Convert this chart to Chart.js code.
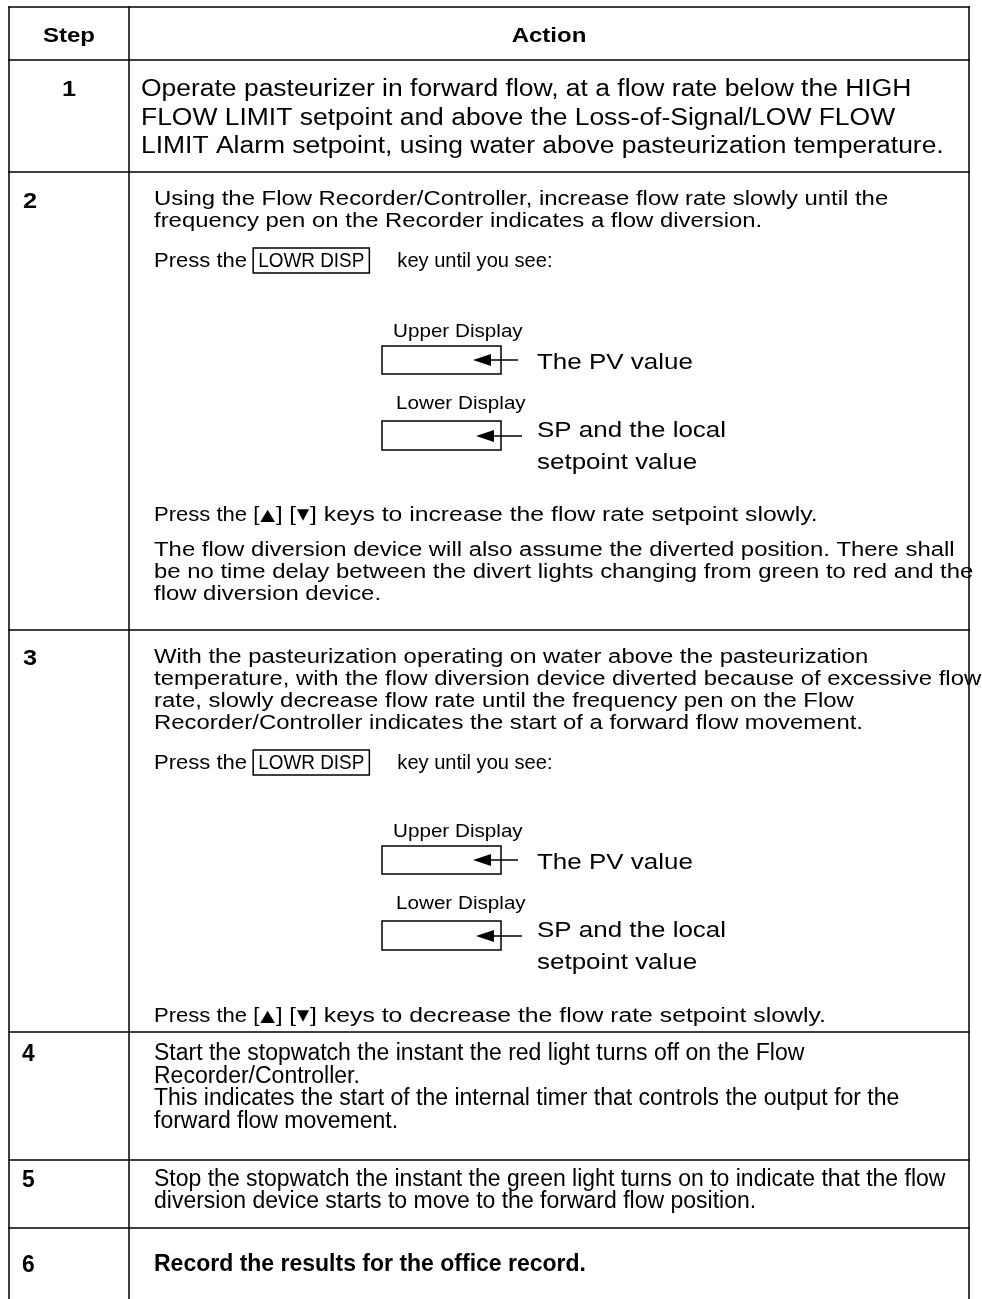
<!DOCTYPE html>
<html>
<head>
<meta charset="utf-8">
<title>Step / Action</title>
<script src="https://cdn.jsdelivr.net/npm/chart.js@4.4.1/dist/chart.umd.min.js"></script>
<style>
  html, body { margin: 0; padding: 0; background: #fff; }
  #wrap { width: 982px; height: 1299px; }
</style>
</head>
<body>
<div id="wrap"><canvas id="table-chart" width="982" height="1299"></canvas></div>
<script>
// Textos da tabela
var headerLabels = ['Step', 'Action'];
var stepLabels = ['1', '2', '3', '4', '5', '6'];
var step1Lines = [
  'Operate pasteurizer in forward flow, at a flow rate below the HIGH',
  'FLOW LIMIT setpoint and above the Loss-of-Signal/LOW FLOW',
  'LIMIT Alarm setpoint, using water above pasteurization temperature.'
];
var step2Intro = [
  'Using the Flow Recorder/Controller, increase flow rate slowly until the',
  'frequency pen on the Recorder indicates a flow diversion.'
];
var pressKeyText = ['Press the ', 'key until you see:'];
var keyLabel = 'LOWR DISP';
var displayLabels = ['Upper Display', 'Lower Display'];
var displayNotes = [['The PV value'], ['SP and the local', 'setpoint value']];
var arrowKeys = ['\u25B2', '\u25BC'];
var step2Keys = '] keys to increase the flow rate setpoint slowly.';
var step2Outro = [
  'The flow diversion device will also assume the diverted position. There shall',
  'be no time delay between the divert lights changing from green to red and the',
  'flow diversion device.'
];
var step3Intro = [
  'With the pasteurization operating on water above the pasteurization',
  'temperature, with the flow diversion device diverted because of excessive flow',
  'rate, slowly decrease flow rate until the frequency pen on the Flow',
  'Recorder/Controller indicates the start of a forward flow movement.'
];
var step3Keys = '] keys to decrease the flow rate setpoint slowly.';
var step4Lines = [
  'Start the stopwatch the instant the red light turns off on the Flow',
  'Recorder/Controller.',
  'This indicates the start of the internal timer that controls the output for the',
  'forward flow movement.'
];
var step5Lines = [
  'Stop the stopwatch the instant the green light turns on to indicate that the flow',
  'diversion device starts to move to the forward flow position.'
];
var step6Lines = ['Record the results for the office record.'];

// Grade da tabela (limites das colunas e linhas)
var colEdges = [9, 129, 969];
var rowEdges = [7, 60, 172, 630, 1032, 1160, 1228];
var tableBottom = 1299;

var FAMILY = '"Liberation Sans", Arial, Helvetica, sans-serif';
var fonts = {
  head:  { font: 'bold 20px ' + FAMILY, sx: 1.2 },
  step:  { font: 'bold 22px ' + FAMILY, sx: 1.15 },
  stepN: { font: 'bold 24px ' + FAMILY, sx: 0.95 },
  r1:    { font: '23px ' + FAMILY, sx: 1.15 },
  body:  { font: '19.5px ' + FAMILY, sx: 1.225 },
  tail:  { font: '19.5px ' + FAMILY, sx: 1.27 },
  press: { font: '19.5px ' + FAMILY, sx: 1.13 },
  key:   { font: '19.5px ' + FAMILY, sx: 0.97 },
  keyTail: { font: '19.5px ' + FAMILY, sx: 1.03 },
  small: { font: '17.5px ' + FAMILY, sx: 1.18 },
  note:  { font: '22px ' + FAMILY, sx: 1.18 },
  narrow:{ font: '23px ' + FAMILY, sx: 1.0 },
  narrowB:{ font: 'bold 23px ' + FAMILY, sx: 1.0 },
  symUp: { font: '16px "DejaVu Sans", sans-serif', sx: 1.2 },
  symDn: { font: '15px "DejaVu Sans", sans-serif', sx: 1.05 }
};

// Monta as linhas da grade como datasets do gráfico
var ruleSets = [];
rowEdges.forEach(function(y) {
  ruleSets.push([{x: colEdges[0], y: y}, {x: colEdges[2], y: y}]);
});
colEdges.forEach(function(x) {
  ruleSets.push([{x: x, y: rowEdges[0]}, {x: x, y: tableBottom}]);
});
var datasets = ruleSets.map(function(pts) {
  return {
    data: pts, showLine: true, borderColor: '#000', borderWidth: 1.5,
    pointRadius: 0, fill: false, tension: 0, borderCapStyle: 'square', clip: false
  };
});

// Plugin que escreve os textos e os desenhos dentro das células
var tableTextPlugin = {
  id: 'tableText',
  afterDatasetsDraw: function(chart) {
    var ctx = chart.ctx;
    var sx = chart.scales.x, sy = chart.scales.y;
    var X = function(v) { return sx.getPixelForValue(v); };
    var Y = function(v) { return sy.getPixelForValue(v); };

    function measure(txt, f) {
      ctx.font = f.font;
      return ctx.measureText(txt).width * f.sx;
    }
    function text(txt, x, y, f) {
      ctx.save();
      ctx.fillStyle = '#000';
      ctx.textBaseline = 'alphabetic';
      ctx.font = f.font;
      ctx.translate(X(x), Y(y));
      ctx.scale(f.sx, 1);
      ctx.fillText(txt, 0, 0);
      ctx.restore();
      return measure(txt, f);
    }
    function centered(txt, cx, y, f) {
      text(txt, cx - measure(txt, f) / 2, y, f);
    }
    function lines(arr, x, y0, gap, f) {
      arr.forEach(function(t, i) { text(t, x, y0 + i * gap, f); });
    }
    function box(x0, y0, x1, y1) {
      ctx.save();
      ctx.strokeStyle = '#000';
      ctx.lineWidth = 1.5;
      ctx.strokeRect(X(x0), Y(y0), X(x1) - X(x0), Y(y1) - Y(y0));
      ctx.restore();
    }
    function arrow(tipX, cy, endX) {
      ctx.save();
      ctx.fillStyle = '#000';
      ctx.strokeStyle = '#000';
      ctx.lineWidth = 1.5;
      ctx.beginPath();
      ctx.moveTo(X(tipX), Y(cy));
      ctx.lineTo(X(tipX + 18), Y(cy - 6));
      ctx.lineTo(X(tipX + 18), Y(cy + 6));
      ctx.closePath();
      ctx.fill();
      ctx.beginPath();
      ctx.moveTo(X(tipX + 16), Y(cy));
      ctx.lineTo(X(endX), Y(cy));
      ctx.stroke();
      ctx.restore();
    }
    function pressKey(x, y) {
      var cx = x + text(pressKeyText[0], x, y, fonts.press);
      var w = text(keyLabel, cx + 5, y, fonts.key);
      box(cx, y - 19, cx + w + 10, y + 6);
      text(pressKeyText[1], cx + w + 10 + 28, y, fonts.keyTail);
    }
    function pressArrows(x, y, tail) {
      var cx = x + text('Press the [', x, y, fonts.press);
      cx += text(arrowKeys[0], cx + 1, y - 1, fonts.symUp) + 2;
      cx += text('] [', cx, y, fonts.body);
      cx += text(arrowKeys[1], cx + 1, y - 2, fonts.symDn) + 2;
      text(tail, cx, y, fonts.tail);
    }
    function displayBlock(dy) {
      text(displayLabels[0], 393, 337 + dy, fonts.small);
      box(382, 346 + dy, 501, 374 + dy);
      arrow(473, 360 + dy, 518);
      text(displayNotes[0][0], 537, 369 + dy, fonts.note);
      text(displayLabels[1], 396, 409 + dy, fonts.small);
      box(382, 421 + dy, 501, 450 + dy);
      arrow(476, 436 + dy, 522);
      lines(displayNotes[1], 537, 437 + dy, 32, fonts.note);
    }

    // Cabeçalho
    centered(headerLabels[0], (colEdges[0] + colEdges[1]) / 2, 42, fonts.head);
    centered(headerLabels[1], (colEdges[1] + colEdges[2]) / 2, 42, fonts.head);

    // Passo 1
    centered(stepLabels[0], (colEdges[0] + colEdges[1]) / 2, 96, fonts.step);
    lines(step1Lines, 141, 96, 28.5, fonts.r1);

    // Passo 2
    text(stepLabels[1], 23, 208, fonts.step);
    lines(step2Intro, 154, 205, 22, fonts.body);
    pressKey(154, 267);
    displayBlock(0);
    pressArrows(154, 521, step2Keys);
    lines(step2Outro, 154, 556, 22, fonts.body);

    // Passo 3
    text(stepLabels[2], 23, 665, fonts.step);
    lines(step3Intro, 154, 663, 22, fonts.body);
    pressKey(154, 769);
    displayBlock(500);
    pressArrows(154, 1022, step3Keys);

    // Passos 4, 5 e 6
    text(stepLabels[3], 22, 1061, fonts.stepN);
    lines(step4Lines, 154, 1060, 22.5, fonts.narrow);
    text(stepLabels[4], 22, 1187, fonts.stepN);
    lines(step5Lines, 154, 1186, 22, fonts.narrow);
    text(stepLabels[5], 22, 1272, fonts.stepN);
    lines(step6Lines, 154, 1271, 22, fonts.narrowB);
  }
};

new Chart(document.getElementById('table-chart'), {
  type: 'scatter',
  data: { datasets: datasets },
  options: {
    responsive: false,
    animation: false,
    devicePixelRatio: 1,
    events: [],
    layout: { padding: 0 },
    plugins: { legend: { display: false }, tooltip: { enabled: false } },
    scales: {
      x: { type: 'linear', min: 0, max: 982, display: false },
      y: { type: 'linear', min: 0, max: 1299, reverse: true, display: false }
    }
  },
  plugins: [tableTextPlugin]
});
</script>
</body>
</html>
